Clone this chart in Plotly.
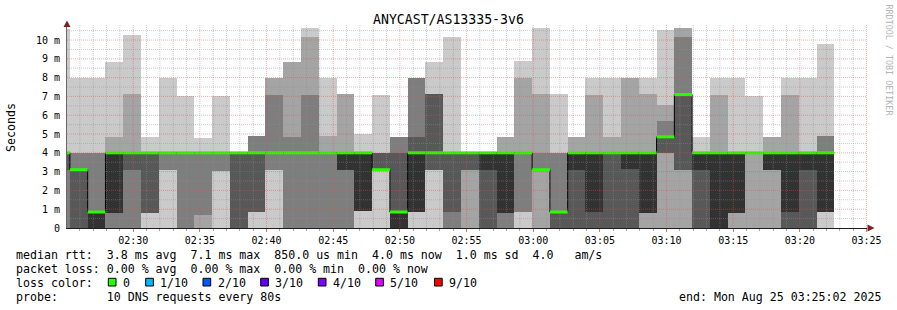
import plotly.graph_objects as go
import pandas as pd

DAY = "2025-08-25 "
STEP_MS = 80000

# start time of each 80 s probe round (first one is only partly visible)
bin_start = [
    "02:23:55", "02:25:15", "02:26:35", "02:27:55", "02:29:15", "02:30:35",
    "02:31:55", "02:33:15", "02:34:35", "02:35:55", "02:37:15", "02:38:35",
    "02:39:55", "02:41:15", "02:42:35", "02:43:55", "02:45:15", "02:46:35",
    "02:47:55", "02:49:15", "02:50:35", "02:51:55", "02:53:15", "02:54:35",
    "02:55:55", "02:57:15", "02:58:35", "02:59:55", "03:01:15", "03:02:35",
    "03:03:55", "03:05:15", "03:06:35", "03:07:55", "03:09:15", "03:10:35",
    "03:11:55", "03:13:15", "03:14:35", "03:15:55", "03:17:15", "03:18:35",
    "03:19:55", "03:21:15",
]

# 10 sorted ping times (ms) for each round
pings = [
    [0, 0, 0, 3.1, 4.0, 4.0, 4.0, 4.0, 4.0, 10.6],
    [0, 0, 0, 0, 3.1, 3.1, 3.1, 4.0, 4.0, 7.96],
    [0, 0, 0, 0, 0, 0.85, 0.85, 4.0, 4.0, 7.96],
    [0, 0, 0, 0.82, 0.82, 4.0, 4.0, 4.0, 4.86, 8.85],
    [0, 0, 0, 3.09, 4.0, 4.0, 4.0, 4.0, 7.13, 10.27],
    [0, 0.82, 0.82, 0.82, 4.0, 4.0, 4.0, 4.0, 4.0, 4.86],
    [0, 3.09, 3.09, 4.0, 4.0, 4.0, 4.0, 4.0, 4.0, 7.96],
    [0, 0, 0, 4.0, 4.0, 4.0, 4.0, 4.0, 4.0, 7.02],
    [0, 0, 0.69, 4.0, 4.0, 4.0, 4.0, 4.0, 4.0, 4.77],
    [0, 3.03, 3.03, 4.0, 4.0, 4.0, 4.0, 4.0, 4.0, 7.02],
    [0, 0, 0, 0, 4.0, 4.0, 4.0, 4.0, 4.0, 4.05],
    [0, 0.87, 0.87, 0.87, 4.0, 4.0, 4.0, 4.9, 4.9, 4.9],
    [0, 3.09, 3.09, 4.0, 4.0, 4.0, 4.0, 7.1, 7.96, 7.96],
    [0, 0, 0, 4.0, 4.0, 4.0, 4.0, 4.86, 8.85, 8.85],
    [0, 0, 0, 4.0, 4.0, 4.0, 4.0, 7.07, 10.14, 10.62],
    [0, 0, 0, 4.0, 4.0, 4.0, 4.0, 4.0, 4.9, 7.96],
    [0, 0, 0, 3.09, 3.09, 4.0, 4.0, 4.0, 7.13, 7.13],
    [0, 0.92, 0.92, 0.92, 0.92, 4.0, 4.0, 4.0, 4.0, 4.98],
    [0, 3.09, 3.09, 3.09, 3.09, 3.09, 4.0, 4.0, 4.0, 7.07],
    [0, 0, 0, 0, 0, 0.85, 4.0, 4.86, 4.86, 4.86],
    [0, 0.87, 0.87, 0.87, 0.87, 4.0, 4.86, 7.96, 7.96, 7.96],
    [0, 3.09, 3.09, 3.09, 4.0, 4.0, 7.13, 7.13, 7.13, 8.85],
    [0, 0, 0, 0.87, 4.0, 4.0, 4.0, 4.0, 4.0, 10.14],
    [0, 0, 3.09, 3.09, 4.0, 4.0, 4.0, 4.0, 4.0, 4.05],
    [0, 0, 0, 0, 3.09, 4.0, 4.0, 4.0, 4.0, 4.05],
    [0, 0, 0, 0.82, 0.82, 4.0, 4.0, 4.0, 4.86, 4.86],
    [0, 0.87, 0.87, 4.0, 4.0, 4.0, 4.0, 4.0, 7.96, 8.9],
    [0, 0, 3.09, 3.09, 3.09, 3.09, 3.09, 4.0, 7.13, 10.62],
    [0, 0, 0, 0, 0.85, 0.85, 0.85, 4.0, 4.0, 7.13],
    [0, 0, 0, 0, 3.09, 4.0, 4.0, 4.0, 4.86, 4.86],
    [0, 0, 0, 0, 0.87, 4.0, 4.0, 4.0, 7.07, 7.96],
    [0, 0, 0, 0, 4.0, 4.0, 4.0, 4.0, 4.86, 7.96],
    [0, 0, 0, 0, 3.14, 4.0, 4.0, 4.0, 7.96, 7.96],
    [0, 0, 0.82, 0.82, 0.82, 4.0, 4.0, 4.0, 7.13, 7.96],
    [0, 0, 4.0, 4.0, 4.85, 4.85, 4.85, 5.69, 6.54, 10.53],
    [0, 0, 3.09, 3.09, 7.1, 7.1, 7.1, 10.14, 10.62, 10.62],
    [0, 0, 0, 0, 3.09, 4.0, 4.0, 4.0, 4.0, 4.86],
    [0, 0, 0, 0, 0, 4.0, 4.0, 4.0, 7.07, 7.96],
    [0, 0, 0.82, 0.82, 0.82, 4.0, 4.0, 4.0, 4.0, 7.96],
    [0, 0, 4.0, 4.0, 4.0, 4.0, 4.0, 4.0, 4.0, 7.02],
    [0, 0, 3.09, 3.09, 3.09, 4.0, 4.0, 4.0, 4.86, 4.86],
    [0, 0, 0, 0, 0.87, 4.0, 4.0, 4.0, 7.07, 7.96],
    [0, 0, 0, 0, 3.09, 4.0, 4.0, 4.0, 4.0, 7.96],
    [0, 0.87, 0.87, 0.87, 0.87, 4.0, 4.0, 4.9, 4.9, 9.79],
]

# median rtt (ms) for each round
median = [
    4.0, 3.1, 0.85,
    4.0, 4.0, 4.0, 4.0, 4.0, 4.0, 4.0, 4.0, 4.0, 4.0, 4.0, 4.0, 4.0, 4.0, 4.0,
    3.1, 0.85,
    4.0, 4.0, 4.0, 4.0, 4.0, 4.0, 4.0,
    3.1, 0.85,
    4.0, 4.0, 4.0, 4.0, 4.0,
    4.85, 7.1,
    4.0, 4.0, 4.0, 4.0, 4.0, 4.0, 4.0, 4.0,
]

y_tick_vals = [0, 1, 2, 3, 4, 5, 6, 7, 8, 9, 10]
y_tick_text = ["0", "1 m", "2 m", "3 m", "4 m", "5 m", "6 m", "7 m", "8 m", "9 m", "10 m"]

loss_labels = ["0", "1/10", "2/10", "3/10", "4/10", "5/10", "9/10"]
loss_colors = ["#26ff00", "#00b8ff", "#0059ff", "#5e00ff", "#7e00ff", "#dd00ff", "#ff0000"]

smoke_colors = ["#cacaca", "#a4a4a4", "#7e7e7e", "#585858", "#323232"]

MONO = "DejaVu Sans Mono"

# ---------------------------------------------------------------- geometry
L, R, T, B = 67, 30, 25, 82
W, H = 897, 310
PW, PH = W - L - R, H - T - B


def px(x):
    return (x - L) / PW


def py(y):
    return (T + PH - y) / PH


starts = pd.to_datetime([DAY + s for s in bin_start])
ends = starts + pd.Timedelta(milliseconds=STEP_MS)

fig = go.Figure()

# smoke: band k spans ping k .. ping (11-k)
for k, col in enumerate(smoke_colors):
    lo = [row[k] for row in pings]
    hi = [row[9 - k] for row in pings]
    fig.add_trace(go.Bar(
        x=starts, base=lo, y=[h - l for h, l in zip(hi, lo)],
        width=STEP_MS, offset=0, marker=dict(color=col, line=dict(width=0)),
        hoverinfo="skip", showlegend=False,
    ))

# black median step line
fig.add_trace(go.Scatter(
    x=list(starts) + [ends[-1]], y=median + [median[-1]],
    mode="lines", line=dict(color="#000000", width=1, shape="hv"),
    hoverinfo="skip", showlegend=False,
))

# green median segments (0 loss)
gx, gy = [], []
for s, e, m in zip(starts, ends, median):
    gx += [s, e, None]
    gy += [m, m, None]
fig.add_trace(go.Scatter(
    x=gx, y=gy, mode="lines", line=dict(color=loss_colors[0], width=3),
    hoverinfo="skip", showlegend=False,
))

shapes = []
# grid on top of the data
minor_col = "rgba(143,143,143,0.45)"
major_col = "rgba(222,79,79,0.45)"
for t in pd.date_range(DAY + "02:26:00", DAY + "03:25:00", freq="min"):
    shapes.append(dict(type="line", xref="x", yref="paper", x0=t, x1=t, y0=0, y1=1,
                       layer="above",
                       line=dict(color=major_col if t.minute % 5 == 0 else minor_col,
                                 width=1, dash="1px,1px")))
for i in range(1, 22):
    v = i * 0.5
    shapes.append(dict(type="line", xref="paper", yref="y", x0=0, x1=1, y0=v, y1=v,
                       layer="above",
                       line=dict(color=major_col if i % 2 == 0 else minor_col,
                                 width=1, dash="1px,1px")))

# axis arrows
arrow_col = "rgb(128,31,31)"
shapes.append(dict(type="path", xref="paper", yref="paper", layer="above",
                   path=f"M {px(67)} {py(20.5)} L {px(63.5)} {py(27)} L {px(70.5)} {py(27)} Z",
                   fillcolor=arrow_col, line=dict(width=0)))
shapes.append(dict(type="path", xref="paper", yref="paper", layer="above",
                   path=f"M {px(874.5)} {py(228)} L {px(867.5)} {py(224.5)} L {px(867.5)} {py(231.5)} Z",
                   fillcolor=arrow_col, line=dict(width=0)))

annotations = []


def txt(x, y, s, size=11.6, anchor="left", color="black", angle=0, yanchor="middle"):
    annotations.append(dict(
        xref="paper", yref="paper", x=px(x), y=py(y), text=s.replace(" ", "\u00a0"),
        showarrow=False, xanchor=anchor, yanchor=yanchor, textangle=angle,
        borderpad=0, borderwidth=0,
        font=dict(family=MONO, size=size, color=color),
    ))


txt(448.5, 19.5, "ANYCAST/AS13335-3v6", size=13.2, anchor="center")
txt(11, 127, "Seconds", size=11.6, anchor="center", angle=-90)
txt(888.5, 60, "RRDTOOL / TOBI OETIKER", size=8.4, anchor="center",
    color="#b4b4b4", angle=90)

txt(15.5, 254.5,
    "median rtt:  3.8 ms avg  7.1 ms max  850.0 us min  4.0 ms now  1.0 ms sd  4.0   am/s")
txt(15.5, 268.5, "packet loss: 0.00 % avg  0.00 % max  0.00 % min  0.00 % now")
txt(15.5, 282.5, "loss color:")
txt(15.5, 296.5, "probe:       10 DNS requests every 80s")
txt(881, 296.5, "end: Mon Aug 25 03:25:02 2025", anchor="right")

box_x = [108.3, 145.7, 203.0, 260.7, 318.3, 375.7, 434.5]
for bx, lab, col in zip(box_x, loss_labels, loss_colors):
    shapes.append(dict(type="rect", xref="paper", yref="paper",
                       x0=px(bx), x1=px(bx + 7.7), y0=py(286), y1=py(278.3),
                       fillcolor=col, line=dict(color="black", width=1), layer="above"))
    txt(bx + 14.5, 282.5, lab)

fig.update_layout(
    width=W, height=H,
    margin=dict(l=L, r=R, t=T, b=B, pad=0),
    paper_bgcolor="white", plot_bgcolor="white",
    barmode="overlay", bargap=0,
    showlegend=False,
    shapes=shapes, annotations=annotations,
    xaxis=dict(
        type="date",
        range=[DAY + "02:25:02", DAY + "03:25:02"],
        tick0=DAY + "02:30:00", dtick=300000, tickformat="%H:%M",
        ticks="outside", ticklen=3, tickcolor="rgba(222,79,79,0.8)",
        minor=dict(dtick=60000, ticks="outside", ticklen=2,
                   tickcolor="rgba(143,143,143,0.8)", showgrid=False),
        showgrid=False, zeroline=False,
        showline=True, linecolor="#1f1f1f", linewidth=1,
        tickfont=dict(family=MONO, size=10, color="black"),
        fixedrange=True,
    ),
    yaxis=dict(
        range=[0, 10.8],
        tickvals=y_tick_vals, ticktext=y_tick_text,
        ticks="outside", ticklen=4, tickcolor="rgba(0,0,0,0)",
        showgrid=False, zeroline=False,
        showline=True, linecolor="#6a6a6a", linewidth=1,
        tickfont=dict(family=MONO, size=10, color="black"),
        fixedrange=True,
    ),
)

fig.write_html("out.html", config={"displayModeBar": False})
